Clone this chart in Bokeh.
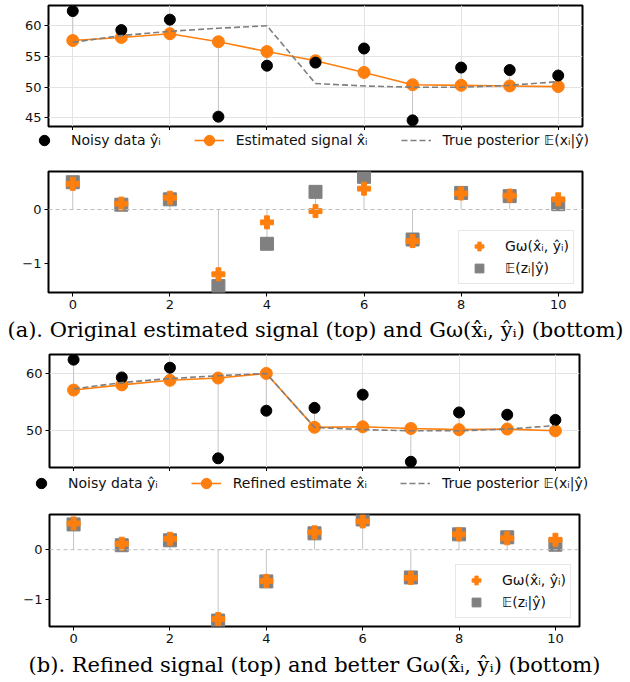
from bokeh.plotting import figure
from bokeh.models import Range1d, FixedTicker, Legend, LegendItem, Span
from bokeh.layouts import column
from bokeh.embed import file_html
from bokeh.resources import INLINE

idx = list(range(11))
noisy = [62.4, 59.3, 61.0, 45.2, 53.5, 54.0, 56.3, 44.6, 53.2, 52.8, 51.9]
posterior = [57.3, 58.4, 59.1, 59.6, 60.0, 50.6, 50.2, 50.0, 50.0, 50.3, 50.9]
est_orig = [57.6, 58.1, 58.7, 57.4, 55.8, 54.3, 52.4, 50.4, 50.3, 50.2, 50.1]
est_ref = [57.1, 58.0, 58.8, 59.2, 60.0, 50.6, 50.7, 50.4, 50.2, 50.3, 50.0]
ez = [0.51, 0.09, 0.19, -1.43, -0.64, 0.33, 0.61, -0.56, 0.31, 0.25, 0.10]
g_orig = [0.48, 0.11, 0.22, -1.21, -0.24, -0.03, 0.39, -0.59, 0.30, 0.26, 0.19]
g_ref = [0.53, 0.12, 0.22, -1.40, -0.63, 0.35, 0.57, -0.57, 0.31, 0.23, 0.20]

x_ticks = [0, 2, 4, 6, 8, 10]
top_yticks_a = [45, 50, 55, 60]
top_yticks_b = [50, 60]
bot_yticks = [-1, 0]

ORANGE = "#ff7f0e"
TICKFONT = "DejaVu Sans"


def style_axes(p, show_x_labels):
    p.outline_line_color = "black"
    p.outline_line_width = 2
    for ax in (p.xaxis[0], p.yaxis[0]):
        ax.axis_line_color = None
        ax.major_tick_line_color = "black"
        ax.major_tick_line_width = 1
        ax.major_tick_out = 4
        ax.major_tick_in = 0
        ax.minor_tick_line_color = None
        ax.major_label_text_font = TICKFONT
        ax.major_label_text_font_size = "13px"
        ax.major_label_text_color = "#111111"
        ax.major_label_standoff = 3
    p.xaxis.ticker = FixedTicker(ticks=x_ticks)
    if not show_x_labels:
        p.xaxis.major_label_overrides = {t: "" for t in x_ticks}
        p.xaxis.major_label_text_font_size = "1px"
        p.xaxis.major_label_standoff = 0
    p.background_fill_color = "white"
    p.border_fill_color = "white"


def draw_top(p, est, visible=True):
    p.segment(x0=idx, y0=noisy, x1=idx, y1=est, line_color="#c4c4c4",
              line_width=1, visible=visible)
    r_line = p.line(idx, est, line_color=ORANGE, line_width=1.6, visible=visible)
    r_pts = p.scatter(idx, est, size=12, fill_color=ORANGE, line_color=ORANGE,
                      visible=visible)
    r_noisy = p.scatter(idx, noisy, size=11, fill_color="black", line_color="black",
                        visible=visible)
    r_post = p.line(idx, posterior, line_color="#7f7f7f", line_width=1.6,
                    line_dash="6 3", visible=visible)
    return r_line, r_pts, r_noisy, r_post


def top_panel(est, yticks, height, btop, bbottom, bleft, bright):
    p = figure(width=630, height=height, x_range=Range1d(-0.5, 10.5),
               y_range=Range1d(43.6, 63.3), output_backend="svg",
               toolbar_location=None, min_border_left=bleft,
               min_border_right=bright, min_border_top=btop,
               min_border_bottom=bbottom, frame_align=False)
    style_axes(p, False)
    p.yaxis.ticker = FixedTicker(ticks=yticks)
    p.xgrid.ticker = FixedTicker(ticks=x_ticks)
    p.grid.grid_line_color = "#e3e3e3"
    p.grid.grid_line_width = 1
    draw_top(p, est)
    return p


def legend_strip(est, est_label, height, loc):
    p = figure(width=630, height=height, x_range=Range1d(-0.5, 10.5),
               y_range=Range1d(43.6, 63.3), output_backend="svg",
               toolbar_location=None, min_border=0, frame_align=False,
               x_axis_location=None, y_axis_location=None)
    p.outline_line_color = None
    p.grid.grid_line_color = None
    p.border_fill_color = "white"
    p.background_fill_color = "white"
    r_line, r_pts, r_noisy, r_post = draw_top(p, est, visible=False)
    leg = Legend(items=[
        LegendItem(label="Noisy data \u0177\u1d62", renderers=[r_noisy]),
        LegendItem(label=est_label, renderers=[r_line, r_pts]),
        LegendItem(label="True posterior \U0001d53c(x\u1d62|\u0177)", renderers=[r_post]),
    ], orientation="horizontal", location=loc, margin=0,
        padding=0, spacing=33, glyph_width=30, glyph_height=26, label_height=26,
        label_standoff=12, label_text_font=TICKFONT, label_text_font_size="14px",
        label_text_color="#111111", background_fill_alpha=0, border_line_color=None,
        inactive_fill_alpha=0)
    p.add_layout(leg, "center")
    return p


def bottom_panel(g, caption, height, btop, bbottom, bleft, bright, tstand):
    p = figure(width=630, height=height, x_range=Range1d(-0.5, 10.5),
               y_range=Range1d(-1.55, 0.71), output_backend="svg",
               toolbar_location=None, min_border_left=bleft,
               min_border_right=bright, min_border_top=btop,
               min_border_bottom=bbottom, title=caption, title_location="below",
               frame_align=False)
    style_axes(p, True)
    p.yaxis.ticker = FixedTicker(ticks=bot_yticks)
    p.yaxis.major_label_overrides = {-1: "\u22121", 0: "0"}
    p.grid.grid_line_color = None
    p.add_layout(Span(location=0, dimension="width", line_color="#bdbdbd",
                      line_width=1, line_dash="4 3"))
    p.segment(x0=idx, y0=[0] * 11, x1=idx, y1=ez, line_color="#c4c4c4", line_width=1)
    r_sq = p.scatter(idx, ez, marker="square", size=13, fill_color="#808080",
                     line_color="#808080")
    r_g = p.scatter(idx, g, marker="plus", size=13, fill_color=ORANGE, line_color=ORANGE)
    leg = Legend(items=[
        LegendItem(label="G\u03c9(x\u0302\u1d62, \u0177\u1d62)", renderers=[r_g]),
        LegendItem(label="\U0001d53c(z\u1d62|\u0177)", renderers=[r_sq]),
    ], location="bottom_right", margin=8, padding=4, spacing=0,
        glyph_width=32, glyph_height=22, label_height=22, label_standoff=10,
        label_text_font=TICKFONT, label_text_font_size="14px",
        label_text_color="#111111", border_line_color="#d0d0d0",
        border_line_width=1, background_fill_color="white", background_fill_alpha=0.9)
    p.add_layout(leg, "center")
    p.title.align = "center"
    p.title.text_font = "DejaVu Serif"
    p.title.text_font_size = "21px"
    p.title.text_font_style = "normal"
    p.title.text_color = "black"
    p.title.standoff = tstand
    return p


p1 = top_panel(est_orig, top_yticks_a, 130, 5, 4, 48, 48)
l1 = legend_strip(est_orig, "Estimated signal x\u0302\u1d62", 26, (29, 3))
p2 = bottom_panel(g_orig, "(a). Original estimated signal (top) and G\u03c9(x\u0302\u1d62, \u0177\u1d62) (bottom)",
                  189, 15, 53, 48, 48, 8)
p3 = top_panel(est_ref, top_yticks_b, 126, 9, 4, 49, 51)
l2 = legend_strip(est_ref, "Refined estimate x\u0302\u1d62", 26, (26, 1))
p4 = bottom_panel(g_ref, "(b). Refined signal (top) and better G\u03c9(x\u0302\u1d62, \u0177\u1d62) (bottom)",
                  185, 17, 56, 49, 51, 11)

layout = column(p1, l1, p2, p3, l2, p4, spacing=0)
open("out.html", "w").write(file_html(layout, INLINE))
